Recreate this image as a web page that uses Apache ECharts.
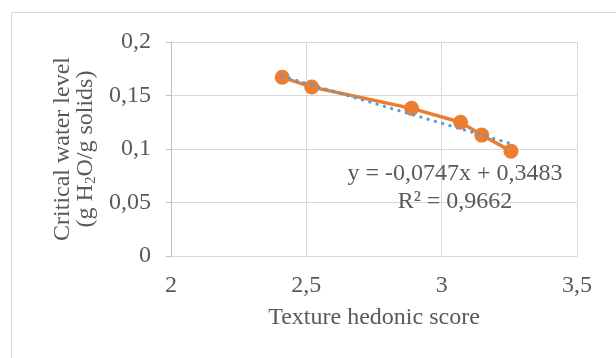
<!DOCTYPE html>
<html><head><meta charset="utf-8">
<script src="https://cdn.jsdelivr.net/npm/echarts@6/dist/echarts.min.js"></script>
<style>html,body{margin:0;padding:0;background:#fff}#c{width:616px;height:358px}</style>
</head><body><div id="c"></div>
<script>
const scoreX = [2.411, 2.52, 2.889, 3.07, 3.148, 3.256];
const waterY = [0.167, 0.158, 0.138, 0.125, 0.113, 0.098];
const trendX = [2.411, 3.256];
const trendY = [0.168, 0.105];
const xTicks = {min: 2, max: 3.5, interval: 0.5};
const yTicks = {min: 0, max: 0.2, interval: 0.05};
const equationLines = ['y = -0,0747x + 0,3483', 'R² = 0,9662'];
const xName = 'Texture hedonic score';
const yNameLine1 = 'Critical water level';

const font = '"Liberation Serif", "Times New Roman", serif';
const txt = '#595959';
const fmt = v => String(+v.toFixed(2)).replace('.', ',');

const chart = echarts.init(document.getElementById('c'), null, {renderer: 'canvas'});
chart.setOption({
  animation: false,
  backgroundColor: '#fff',
  grid: {left: 171, right: 39, top: 42, bottom: 102},
  xAxis: {
    type: 'value', min: xTicks.min, max: xTicks.max, interval: xTicks.interval,
    name: xName, nameLocation: 'middle', nameGap: 50,
    nameTextStyle: {fontFamily: font, fontSize: 24, color: txt},
    axisLine: {show: true, lineStyle: {color: '#d9d9d9', width: 1}},
    axisTick: {show: false},
    axisLabel: {fontFamily: font, fontSize: 24, color: txt, margin: 18, formatter: fmt},
    splitLine: {show: true, lineStyle: {color: '#d9d9d9', width: 1}}
  },
  yAxis: {
    type: 'value', min: yTicks.min, max: yTicks.max, interval: yTicks.interval,
    name: '{a|' + yNameLine1 + '}\n{a|(g H}{s|2}{a|O/g solids)}',
    nameLocation: 'middle', nameGap: 72, nameRotate: 90,
    nameTextStyle: {
      fontFamily: font, fontSize: 24, color: txt, lineHeight: 23,
      rich: {
        a: {fontFamily: font, fontSize: 24, color: txt, lineHeight: 23},
        s: {fontFamily: font, fontSize: 15, color: txt, lineHeight: 23, padding: [10, 0, 0, 0]}
      }
    },
    axisLine: {show: true, onZero: false, lineStyle: {color: '#bfbfbf', width: 1}},
    axisTick: {show: true, length: 5, lineStyle: {color: '#bfbfbf'}},
    axisLabel: {fontFamily: font, fontSize: 24, color: txt, margin: 20, formatter: fmt},
    splitLine: {show: true, lineStyle: {color: '#d9d9d9', width: 1}}
  },
  series: [
    {
      type: 'line', data: trendX.map((x, i) => [x, trendY[i]]),
      symbol: 'none', z: 3,
      lineStyle: {color: '#5B9BD5', width: 3.2, type: [0.1, 7.5], cap: 'round'}
    },
    {
      type: 'line', data: scoreX.map((x, i) => [x, waterY[i]]),
      symbol: 'circle', symbolSize: 15, z: 2,
      lineStyle: {color: '#ED7D31', width: 3.5},
      itemStyle: {color: '#ED7D31'}
    }
  ],
  graphic: [
    {type: 'rect', shape: {x: 11.5, y: 12.5, width: 700, height: 400},
     style: {fill: 'none', stroke: '#d9d9d9', lineWidth: 1}, silent: true},
    {type: 'text', x: 455, y: 160, z: 10,
     style: {text: equationLines.join('\n'), font: '24px ' + font, fill: txt,
             textAlign: 'center', textVerticalAlign: 'top', lineHeight: 28}}
  ]
});
</script></body></html>
